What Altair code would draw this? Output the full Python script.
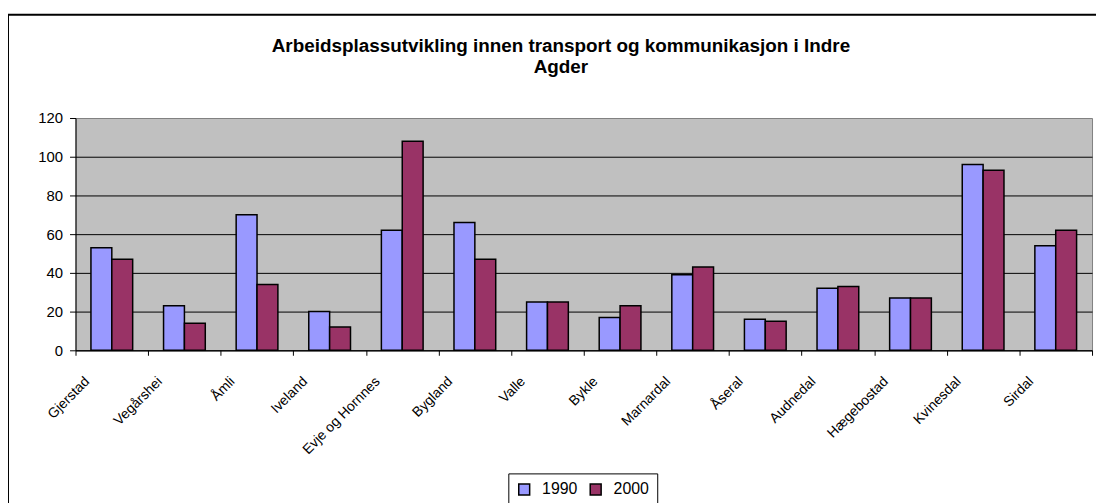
import altair as alt
import pandas as pd

communes = ["Gjerstad", "Vegårshei", "Åmli", "Iveland", "Evje og Hornnes", "Bygland",
            "Valle", "Bykle", "Marnardal", "Åseral", "Audnedal", "Hægebostad",
            "Kvinesdal", "Sirdal"]
years = ["1990", "2000"]
v1990 = [53, 23, 70, 20, 62, 66, 25, 17, 39, 16, 32, 27, 96, 54]
v2000 = [47, 14, 34, 12, 108, 47, 25, 23, 43, 15, 33, 27, 93, 62]
y_ticks = [0, 20, 40, 60, 80, 100, 120]
colors = ["#9999FF", "#993366"]
title_lines = ["Arbeidsplassutvikling innen transport og kommunikasjon i Indre", "Agder"]

rows = []
for c, a, b in zip(communes, v1990, v2000):
    rows.append({"Kommune": c, "År": years[0], "Verdi": a})
    rows.append({"Kommune": c, "År": years[1], "Verdi": b})
df = pd.DataFrame(rows)

W, H = 1024, 234

border = alt.Chart(pd.DataFrame({"k": [0]})).mark_rect(
    fill="transparent", stroke="black", strokeWidth=2
).encode(
    x=alt.value(-68), x2=alt.value(W + 40),
    y=alt.value(-104), y2=alt.value(H + 200)
)

bars = alt.Chart(df).mark_bar(stroke="black", strokeWidth=1.5).encode(
    x=alt.X("Kommune:N", sort=communes,
            scale=alt.Scale(paddingInner=0, paddingOuter=0),
            axis=alt.Axis(title=None, labelAngle=-45, labelAlign="right",
                          labelBaseline="middle", labelFont="Liberation Sans",
                          labelFontSize=14, labelColor="black", labelOffset=-25,
                          labelPadding=24, tickBand="extent", tickSize=5,
                          tickColor="black", domainColor="black",
                          labelOverlap=False, grid=False)),
    xOffset=alt.XOffset("År:N", sort=years,
                        scale=alt.Scale(paddingInner=0, paddingOuter=0.74)),
    y=alt.Y("Verdi:Q", scale=alt.Scale(domain=[0, 120], nice=False),
            axis=alt.Axis(title=None, values=y_ticks, grid=True, gridColor="black",
                          gridOpacity={"condition": {"test": "datum.value === 120", "value": 0}, "value": 1},
                          labelFont="Liberation Sans", labelFontSize=15,
                          labelColor="black", labelPadding=7, tickSize=6,
                          tickColor="black", domainColor="black")),
    color=alt.Color("År:N", sort=years,
                    scale=alt.Scale(domain=years, range=colors),
                    legend=alt.Legend(title=None, orient="none", legendX=436, legendY=358,
                                      direction="horizontal", symbolType="square",
                                      symbolSize=121, symbolStrokeColor="black",
                                      symbolStrokeWidth=1.5, labelFont="Liberation Sans",
                                      labelFontSize=16, labelColor="black",
                                      strokeColor="black", padding=8, fillColor="white",
                                      columnPadding=9, labelOffset=10, symbolOpacity=1))
)

chart = alt.layer(border, bars).properties(
    width=W, height=H,
    autosize=alt.AutoSizeParams(type="none"),
    padding={"left": 68, "top": 109, "right": 4, "bottom": 152},
    title=alt.TitleParams(text=title_lines, font="Liberation Sans", fontSize=19,
                          fontWeight="bold", anchor="middle", frame="group", dx=-23,
                          offset=-64, lineHeight=21, color="black")
).configure_view(fill="#C0C0C0", stroke="#808080")

chart.save("out.html", embed_options={"renderer": "svg", "actions": False})
